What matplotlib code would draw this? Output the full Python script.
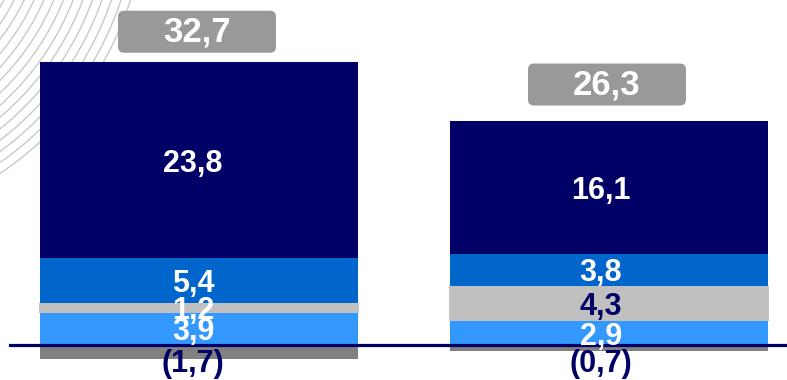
import numpy as np
import matplotlib.pyplot as plt
from matplotlib.patches import FancyBboxPatch

plt.rcParams['font.family'] = ['Liberation Sans', 'DejaVu Sans']

# valeurs par colonne (gauche, droite)
neg_part = [-1.7, -0.7]
part_light = [3.9, 2.9]
part_gray = [1.2, 4.3]
part_mid = [5.4, 3.8]
part_dark = [23.8, 16.1]
totals = [32.7, 26.3]

NAVY = '#000066'
stack = [
    (part_light, '#3399FF', ['white', 'white']),
    (part_gray, '#C0C0C0', ['white', NAVY]),
    (part_mid, '#0066CC', ['white', 'white']),
    (part_dark, NAVY, ['white', 'white']),
]


def fmt(v):
    s = f"{abs(v):.1f}".replace('.', ',')
    return f"({s})" if v < 0 else s


W, H = 787, 380
fig = plt.figure(figsize=(W / 100, H / 100), dpi=100)

# fond : faisceau d'arcs gris en haut à gauche
bg = fig.add_axes([0, 0, 1, 1])
bg.set_xlim(0, W)
bg.set_ylim(H, 0)
bg.axis('off')
t = np.linspace(0, np.pi / 2, 300)
for r in np.arange(212, 332, 9):
    bg.plot(-183 + r * np.cos(t), -100 + r * np.sin(t), color='#c9c9c9', lw=1.0)

ax = fig.add_axes([0, 0, 1, 1])
ax.patch.set_alpha(0)
ax.axis('off')

# échelle : 8.25 px par unité, zéro à 345 px ; colonnes espacées de 410 px
ppu = 8.25
zero = 345
step = 410
ax.set_ylim(-(H - zero) / ppu, zero / ppu)
ax.set_xlim(-199 / step, (W - 199) / step)

x = np.arange(len(totals))
w = 318 / step
# les étiquettes de segment sont légèrement décalées vers la gauche
lab_dx = np.array([-6, -8]) / step

bottom = np.zeros(len(x))
for vals, col, txt_cols in stack:
    vals = np.array(vals)
    ww = w * 320 / 318 if col == '#C0C0C0' else w
    ax.bar(x, vals, bottom=bottom, width=ww, color=col, linewidth=0, zorder=2)
    for i in range(len(x)):
        ax.text(x[i] + lab_dx[i], bottom[i] + vals[i] / 2, fmt(vals[i]),
                ha='center', va='center_baseline', fontsize=22,
                fontweight='bold', color=txt_cols[i], zorder=6)
    bottom += vals

ax.bar(x, neg_part, width=w, color='#808080', linewidth=0, zorder=2)
for i in range(len(x)):
    ax.text(x[i] + lab_dx[i], -2.3, fmt(neg_part[i]), ha='center', va='center',
            fontsize=22, fontweight='bold', color=NAVY, zorder=6)

ax.axhline(0, xmin=10 / W, xmax=1, color=NAVY, lw=2.3, zorder=4)

# étiquettes de total dans des cartouches grises arrondies
bw = 158 / step
bh = 42 / ppu
gap = 22.5 / ppu
for i in range(len(x)):
    xc = x[i] - 2 / step
    y0 = totals[i] + gap
    box = FancyBboxPatch((xc - bw / 2, y0), bw, bh,
                         boxstyle=f"round,pad=0,rounding_size={6 / step}",
                         mutation_aspect=step / ppu, fc='#999999', ec='none',
                         zorder=3)
    ax.add_patch(box)
    ax.text(xc, y0 + bh / 2, fmt(totals[i]), ha='center', va='center',
            fontsize=25, fontweight='bold', color='white', zorder=6)

fig.savefig('out.png', dpi=100)
